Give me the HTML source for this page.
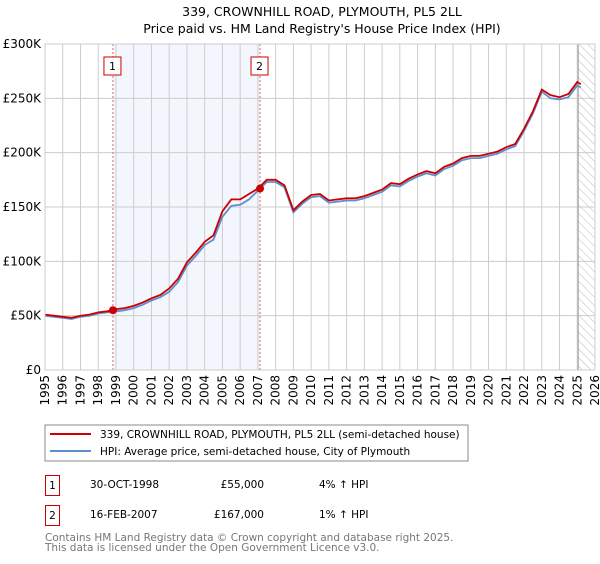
<!DOCTYPE html>
<html><head><meta charset="utf-8"><style>
body{margin:0;background:#fff;font-family:"DejaVu Sans","Liberation Sans",sans-serif;}
svg text{font-family:"DejaVu Sans","Liberation Sans",sans-serif;}
</style></head><body>
<svg id="c" width="600" height="560" viewBox="0 0 600 560" xmlns="http://www.w3.org/2000/svg">
<defs><pattern id="hatch" width="6" height="6" patternUnits="userSpaceOnUse" patternTransform="rotate(-45)"><line x1="0" y1="0" x2="0" y2="6" stroke="#bbb" stroke-width="1"/></pattern></defs>
<text x="322" y="16" text-anchor="middle" font-size="12.5" fill="#000">339, CROWNHILL ROAD, PLYMOUTH, PL5 2LL</text>
<text x="322" y="33" text-anchor="middle" font-size="12.5" fill="#000">Price paid vs. HM Land Registry's House Price Index (HPI)</text>
<g id="plot"></g>
<rect x="45" y="425" width="423" height="36" fill="#fff" stroke="#888"/>
<line x1="50" y1="434" x2="91" y2="434" stroke="#cc0000" stroke-width="2"/>
<text x="100" y="438" font-size="10.5">339, CROWNHILL ROAD, PLYMOUTH, PL5 2LL (semi-detached house)</text>
<line x1="50" y1="451" x2="91" y2="451" stroke="#5b8fd0" stroke-width="2"/>
<text x="100" y="455" font-size="10.5">HPI: Average price, semi-detached house, City of Plymouth</text>
<g font-size="10.5">
<rect x="45.5" y="475.5" width="14" height="20" fill="#fff" stroke="#cc0000"/>
<text x="52.5" y="489" text-anchor="middle">1</text>
<text x="90" y="488">30-OCT-1998</text>
<text x="264" y="488" text-anchor="end">£55,000</text>
<text x="319" y="488">4% ↑ HPI</text>
</g>
<g font-size="10.5">
<rect x="45.5" y="505.5" width="14" height="20" fill="#fff" stroke="#cc0000"/>
<text x="52.5" y="519" text-anchor="middle">2</text>
<text x="90" y="518">16-FEB-2007</text>
<text x="264" y="518" text-anchor="end">£167,000</text>
<text x="319" y="518">1% ↑ HPI</text>
</g>
<text x="45" y="541" font-size="10.5" fill="#777">Contains HM Land Registry data © Crown copyright and database right 2025.</text>
<text x="45" y="551" font-size="10.5" fill="#777">This data is licensed under the Open Government Licence v3.0.</text>
</svg>
<script>
const years=[1995,1995.5,1996,1996.5,1997,1997.5,1998,1998.5,1998.83,1999,1999.5,2000,2000.5,2001,2001.5,2002,2002.5,2003,2003.5,2004,2004.5,2005,2005.5,2006,2006.5,2007,2007.5,2008,2008.5,2009,2009.5,2010,2010.5,2011,2011.5,2012,2012.5,2013,2013.5,2014,2014.5,2015,2015.5,2016,2016.5,2017,2017.5,2018,2018.5,2019,2019.5,2020,2020.5,2021,2021.5,2022,2022.5,2023,2023.5,2024,2024.5,2025,2025.2];
const propertyValues=[51,50,49,48,50,51,53,54,55,56,57,59,62,66,69,75,84,99,108,118,124,146,157,157,162,167,175,175,170,147,155,161,162,156,157,158,158,160,163,166,172,171,176,180,183,181,187,190,195,197,197,199,201,205,208,222,238,258,253,251,254,265,263];
const hpiValues=[50,49,48,47,49,50,52,53,53,54,55,57,60,64,67,72,81,96,105,115,120,141,151,152,157,165,173,173,168,145,153,159,160,154,155,156,156,158,161,164,170,169,174,178,181,179,185,188,193,195,195,197,199,203,206,220,236,256,250,249,251,262,260];
const sales=[{t:1998.83,v:55,label:"1"},{t:2007.12,v:167,label:"2"}];
const yTicks=[0,50,100,150,200,250,300];
const yTickLabels=["£0","£50K","£100K","£150K","£200K","£250K","£300K"];
const xTicks=[1995,1996,1997,1998,1999,2000,2001,2002,2003,2004,2005,2006,2007,2008,2009,2010,2011,2012,2013,2014,2015,2016,2017,2018,2019,2020,2021,2022,2023,2024,2025,2026];
const X0=45,X1=595,Y0=370,Y1=44;
const xs=t=>X0+(t-1995)/(2026-1995)*(X1-X0);
const ys=v=>Y0-v/300*(Y0-Y1);
const NS="http://www.w3.org/2000/svg";
const g=document.getElementById('plot');
function mk(tag,attrs){const e=document.createElementNS(NS,tag);for(const k in attrs)e.setAttribute(k,attrs[k]);g.appendChild(e);return e;}
let e;
e=mk('rect',{x:xs(sales[0].t),y:Y1,width:xs(sales[1].t)-xs(sales[0].t),height:Y0-Y1,fill:'#eef2fc',opacity:0.7});


e=mk('rect',{x:xs(2025.05),y:Y1,width:X1-xs(2025.05),height:Y0-Y1,fill:'url(#hatch)'});


yTicks.forEach((v,i)=>{
 e=mk('line',{x1:X0,x2:X1,y1:ys(v),y2:ys(v),stroke:'#ccc','stroke-width':1});
 
 
 e=mk('text',{x:X0-4,y:ys(v)+4,'text-anchor':'end','font-size':12});e.textContent=yTickLabels[i];
 
 
});
xTicks.forEach(t=>{
 e=mk('line',{x1:xs(t),x2:xs(t),y1:Y1,y2:Y0,stroke:'#ccc','stroke-width':1});
 
 
 e=mk('text',{x:0,y:0,'text-anchor':'end','font-size':12,transform:`translate(${xs(t)+4},${Y0+5}) rotate(-90)`});e.textContent=t;
 
 
});
e=mk('line',{x1:xs(2025.05),x2:xs(2025.05),y1:Y1,y2:Y0,stroke:'#999','stroke-width':1});


sales.forEach(s=>{
 e=mk('line',{x1:xs(s.t),x2:xs(s.t),y1:Y1,y2:Y0,stroke:'#dd6666','stroke-width':1,'stroke-dasharray':'2,2'});
 
 
});
function path(vals){return vals.map((v,i)=>(i?'L':'M')+xs(years[i]).toFixed(1)+','+ys(v).toFixed(1)).join('');}
e=mk('path',{d:path(hpiValues),fill:'none',stroke:'#5b8fd0','stroke-width':1.8});


e=mk('path',{d:path(propertyValues),fill:'none',stroke:'#cc0000','stroke-width':1.8});


sales.forEach(s=>{
 e=mk('circle',{cx:xs(s.t),cy:ys(s.v),r:4,fill:'#cc0000'});
 
 
 e=mk('rect',{x:xs(s.t)-9,y:57,width:17,height:18,fill:'#fff',stroke:'#cc0000'});
 
 
 e=mk('text',{x:xs(s.t)-0.5,y:70,'text-anchor':'middle','font-size':11});e.textContent=s.label;
 
 
});
e=mk('rect',{x:X0,y:Y1,width:X1-X0,height:Y0-Y1,fill:'none',stroke:'#ccc'});


</script>
</body></html>
